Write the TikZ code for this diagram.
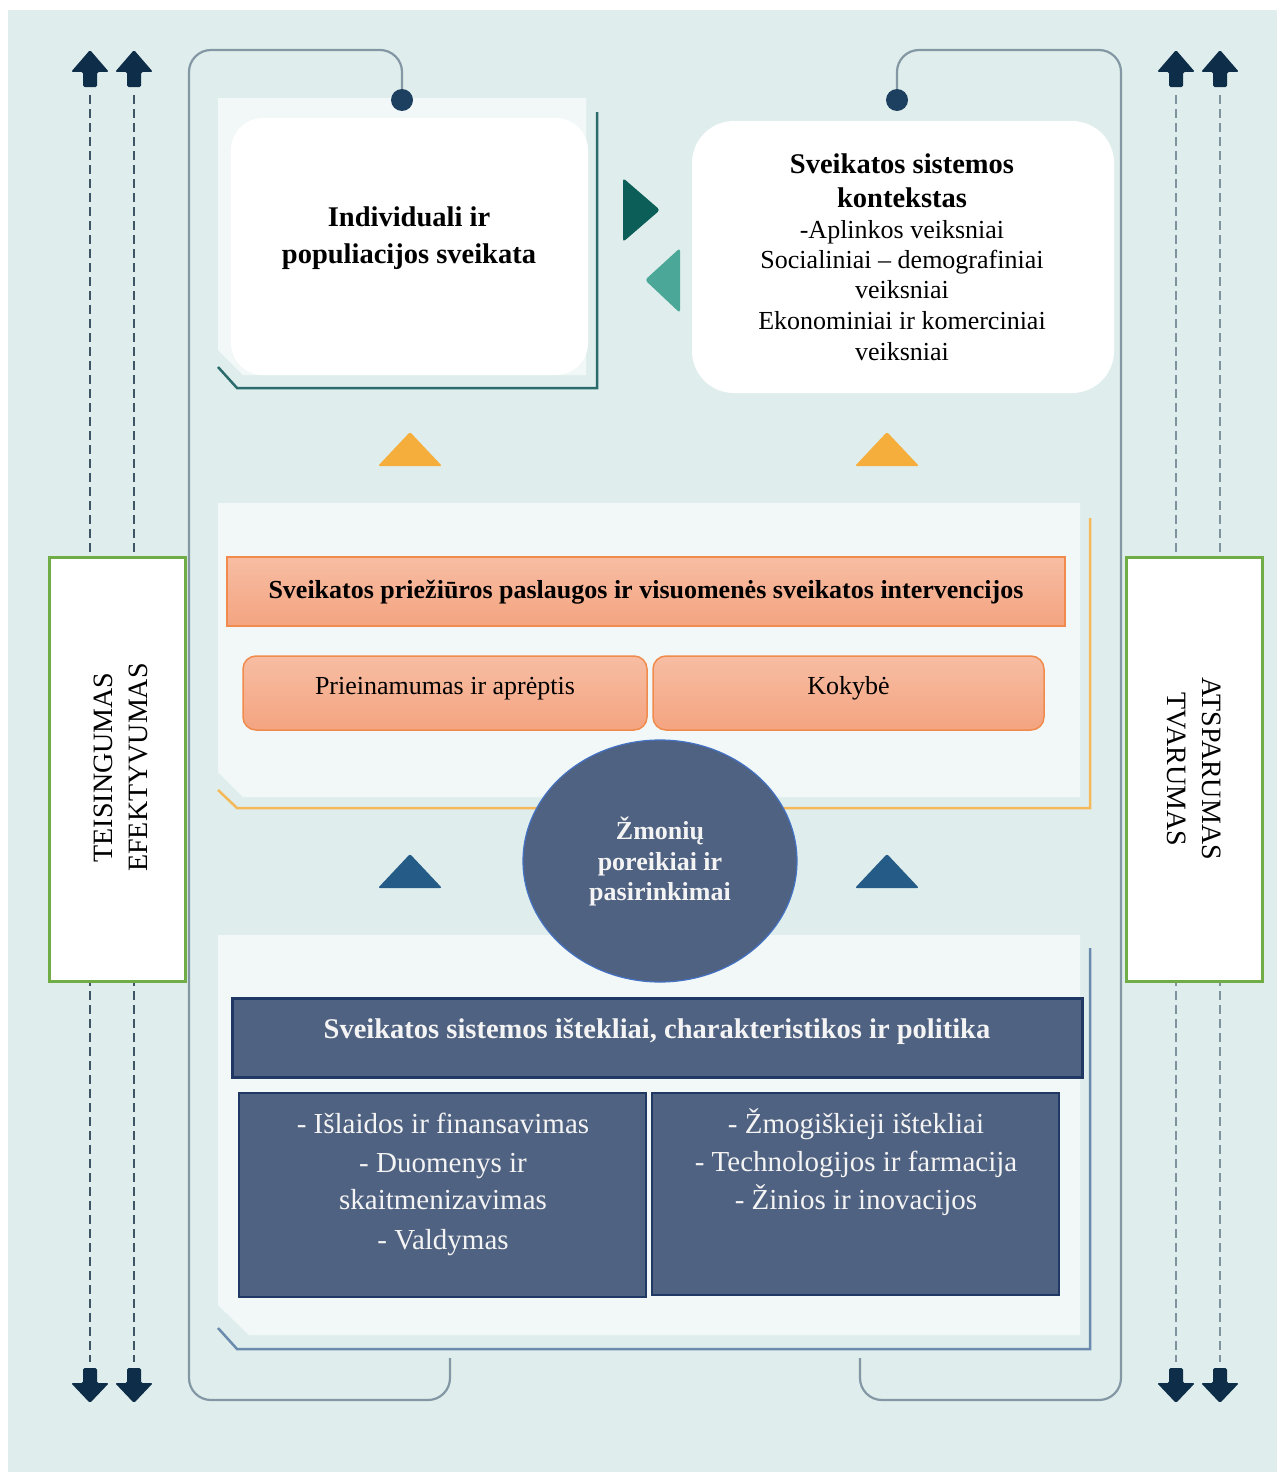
\documentclass[tikz,border=0pt]{standalone}
\usepackage{fontspec}
\setmainfont{Liberation Serif}
\usetikzlibrary{shapes.geometric}
\definecolor{bgteal}{HTML}{DFEEEC}
\definecolor{panelc}{HTML}{F1F8F7}
\definecolor{framec}{HTML}{8397A4}
\definecolor{dotc}{HTML}{1E4060}
\definecolor{arrowc}{HTML}{0E2D48}
\definecolor{dashl}{HTML}{3E5566}
\definecolor{dashr}{HTML}{7F939E}
\definecolor{tealc}{HTML}{2C6B6C}
\definecolor{orangeline}{HTML}{F5B85A}
\definecolor{blueline}{HTML}{6A8AAE}
\definecolor{tridark}{HTML}{0C5E58}
\definecolor{trilight}{HTML}{4BA898}
\definecolor{orangetri}{HTML}{F5AD3C}
\definecolor{bluetri}{HTML}{245B87}
\definecolor{otop}{HTML}{F7BDA3}
\definecolor{obot}{HTML}{F4A480}
\definecolor{oborder}{HTML}{F08B4D}
\definecolor{navyc}{HTML}{506281}
\definecolor{navyborder}{HTML}{1F3864}
\definecolor{greenc}{HTML}{70AD47}
\definecolor{ellblue}{HTML}{4472C4}
\definecolor{txtw}{HTML}{F4F4F4}
\newcommand\myUp[2]{\fill[arrowc,rounded corners=1.5pt] (#1,#2) -- ++(19,22) -- ++(-12,0) -- ++(0,15) -- ++(-14,0) -- ++(0,-15) -- ++(-12,0) -- cycle;}
\newcommand\myDown[2]{\fill[arrowc,rounded corners=1.5pt] (#1,#2) -- ++(19,-20) -- ++(-12,0) -- ++(0,-15) -- ++(-14,0) -- ++(0,15) -- ++(-12,0) -- cycle;}
\begin{document}
\begin{tikzpicture}[x=1pt,y=-1pt,
  box/.style={inner sep=0pt,outer sep=0pt},
  dashline/.style={line width=2pt,dash pattern=on 9pt off 5pt},
  framepath/.style={draw=framec,line width=2.2pt,rounded corners=22pt},
  dotnode/.style={circle,fill=dotc,minimum size=22pt,inner sep=0pt},
  obox/.style={box,draw=oborder,line width=1.5pt,top color=otop,bottom color=obot},
  nbox/.style={box,draw=navyborder,fill=navyc,line width=3pt},
  gbox/.style={box,draw=greenc,line width=3pt,fill=white,minimum width=136pt,minimum height=424pt},
  tbold/.style={anchor=base,inner sep=0pt,font=\fontsize{28.5}{34}\selectfont\bfseries},
  treg/.style={anchor=base,inner sep=0pt,font=\fontsize{26}{30}\selectfont},
  ohead/.style={anchor=base,inner sep=0pt,font=\fontsize{26}{30}\selectfont\bfseries},
  ctext/.style={anchor=base,inner sep=0pt,text=txtw,font=\fontsize{26}{30}\selectfont\bfseries},
  nhead/.style={anchor=base,inner sep=0pt,text=txtw,font=\fontsize{28.5}{34}\selectfont\bfseries},
  nsub/.style={anchor=base,inner sep=0pt,text=txtw,font=\fontsize{29}{34}\selectfont},
  vtext/.style={anchor=base,inner sep=0pt,font=\fontsize{28}{33}\selectfont}]
\useasboundingbox (0,0) rectangle (1277,1472);
\fill[white] (0,0) rectangle (1277,1472);
\fill[bgteal] (8,10) rectangle (1277,1472);

% dashed vertical lines
\coordinate (la1) at (90,95);   \coordinate (la2) at (90,1362);
\coordinate (lb1) at (134,95);  \coordinate (lb2) at (134,1362);
\coordinate (ra1) at (1176,95); \coordinate (ra2) at (1176,1362);
\coordinate (rb1) at (1220,95); \coordinate (rb2) at (1220,1362);
\draw[dashline,draw=dashl] (la1) -- (la2);
\draw[dashline,draw=dashl] (lb1) -- (lb2);
\draw[dashline,draw=dashr] (ra1) -- (ra2);
\draw[dashline,draw=dashr] (rb1) -- (rb2);

% arrows
\myUp{90}{50} \myUp{134}{50} \myUp{1176}{50} \myUp{1220}{50}
\myDown{90}{1403} \myDown{134}{1403} \myDown{1176}{1403} \myDown{1220}{1403}

% frame
\coordinate (fa) at (402,100);
\coordinate (fb) at (897,100);
\coordinate (fl) at (450,1358);
\coordinate (fr) at (860,1358);
\draw[framepath] (fa) -- (402,50) -- (189,50) -- (189,1400) -- (450,1400) -- (fl);
\draw[framepath] (fb) -- (897,50) -- (1121,50) -- (1121,1400) -- (860,1400) -- (fr);

% top-left panel
\fill[panelc] (218,98) -- (586,98) -- (586,375) -- (243,375) -- (218,350) -- cycle;
\node[box,fill=white,rounded corners=32pt,minimum width=357pt,minimum height=257pt] (ind) at (409.5,246.5) {};
\draw[tealc,line width=2.5pt] (218,367) -- (237,388) -- (597,388) -- (597,112);

% top-right box
\node[box,fill=white,rounded corners=42pt,minimum width=422pt,minimum height=272pt] (ctx) at (903,257) {};

% dots on the frame
\node[dotnode] (d1) at (fa) {};
\node[dotnode] (d2) at (fb) {};

% exchange triangles
\fill[tridark,rounded corners=3pt] (623,178) -- (660,210) -- (623,242) -- cycle;
\fill[trilight,rounded corners=3pt] (680,248) -- (645,280) -- (680,313) -- cycle;

% orange triangles
\fill[orangetri,rounded corners=2pt] (410,432) -- (442,466) -- (378,466) -- cycle;
\fill[orangetri,rounded corners=2pt] (887,432) -- (919,466) -- (855,466) -- cycle;

% middle panel
\fill[panelc] (218,503) -- (1080,503) -- (1080,797) -- (243,797) -- (218,772) -- cycle;
\draw[orangeline,line width=2.5pt] (218,790) -- (237,808) -- (1090,808) -- (1090,518);
\node[obox,minimum width=838pt,minimum height=69pt] (svc) at (646,591.5) {};
\node[obox,rounded corners=13pt,minimum width=404pt,minimum height=74pt] (acc) at (445,693) {};
\node[obox,rounded corners=13pt,minimum width=391pt,minimum height=74pt] (qual) at (848.5,693) {};

% blue triangles
\fill[bluetri,rounded corners=2pt] (410,854) -- (442,888) -- (378,888) -- cycle;
\fill[bluetri,rounded corners=2pt] (887,854) -- (919,888) -- (855,888) -- cycle;

% bottom panel
\fill[panelc] (218,935) -- (1080,935) -- (1080,1335) -- (249,1335) -- (218,1305) -- cycle;
\draw[blueline,line width=2.5pt] (218,1328) -- (237,1349) -- (1090,1349) -- (1090,948);
\node[nbox,minimum width=850pt,minimum height=79pt] (res) at (657,1037.5) {};
\node[nbox,line width=2.5pt,minimum width=407pt,minimum height=204pt] (resl) at (442.5,1195) {};
\node[nbox,line width=2.5pt,minimum width=407pt,minimum height=202pt] (resr) at (855.5,1194) {};

% people ellipse
\node[ellipse,box,fill=navyc,draw=ellblue,line width=1.2pt,minimum width=274pt,minimum height=242pt] (ppl) at (660,861) {};

% side boxes
\node[gbox] (lg) at (117,769) {};
\node[gbox] (rg) at (1194,769) {};

% texts
\node[tbold] (t1) at (409,226) {Individuali ir};
\node[tbold] (t2) at (409,263) {populiacijos sveikata};

\node[tbold] (c1) at (902,173) {Sveikatos sistemos};
\node[tbold] (c2) at (902,207) {kontekstas};
\node[treg] (c3) at (902,238) {-Aplinkos veiksniai};
\node[treg] (c4) at (902,268) {Socialiniai -- demografiniai};
\node[treg] (c5) at (902,298) {veiksniai};
\node[treg] (c6) at (902,329) {Ekonominiai ir komerciniai};
\node[treg] (c7) at (902,360) {veiksniai};

\node[ohead] (s1) at (646,598) {Sveikatos priežiūros paslaugos ir visuomenės sveikatos intervencijos};
\node[treg] (a1) at (445,694) {Prieinamumas ir aprėptis};
\node[treg] (q1) at (848.5,694) {Kokybė};

\node[ctext] (p1) at (660,839) {Žmonių};
\node[ctext] (p2) at (660,870) {poreikiai ir};
\node[ctext] (p3) at (660,900) {pasirinkimai};

\node[nhead] (r1) at (657,1038) {Sveikatos sistemos ištekliai, charakteristikos ir politika};
\node[nsub] (l1) at (443,1133) {- Išlaidos ir finansavimas};
\node[nsub] (l2) at (443,1172) {- Duomenys ir};
\node[nsub] (l3) at (443,1209) {skaitmenizavimas};
\node[nsub] (l4) at (443,1249) {- Valdymas};
\node[nsub] (m1) at (856,1133) {- Žmogiškieji ištekliai};
\node[nsub] (m2) at (856,1171) {- Technologijos ir farmacija};
\node[nsub] (m3) at (856,1209) {- Žinios ir inovacijos};

\node[vtext,rotate=90] (v1) at (112,767.5) {TEISINGUMAS};
\node[vtext,rotate=90] (v2) at (147,767.5) {EFEKTYVUMAS};
\node[vtext,rotate=-90] (v3) at (1202,768.5) {ATSPARUMAS};
\node[vtext,rotate=-90] (v4) at (1167,769.5) {TVARUMAS};
\end{tikzpicture}
\end{document}
